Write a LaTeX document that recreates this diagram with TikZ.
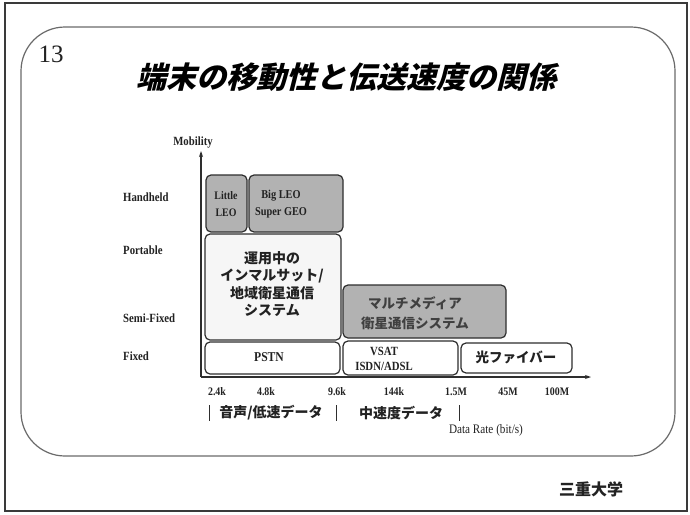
\documentclass[tikz,border=0pt]{standalone}
\usepackage{fontspec}
\setmainfont{Liberation Serif}
\newfontfamily\cond[FakeStretch=0.86]{Liberation Serif}
\newfontfamily\jp{Noto Sans CJK JP}
\newfontfamily\jpti[FakeSlant=0.25]{Noto Sans CJK JP}
\usetikzlibrary{arrows.meta}
\definecolor{framecol}{HTML}{3A3A3A}
\definecolor{innercol}{HTML}{6A6A6A}
\definecolor{edgecol}{HTML}{2E2E2E}
\definecolor{boxgray}{HTML}{B2B2B2}
\definecolor{lightfill}{HTML}{F6F6F6}
\definecolor{txtcol}{HTML}{222222}
\tikzset{
  stagebox/.style={draw=edgecol, line width=1.2pt, rounded corners=5pt, inner sep=0pt, anchor=center},
  graybox/.style={stagebox, fill=boxgray},
  whitebox/.style={stagebox, fill=white},
  lightbox/.style={stagebox, fill=lightfill},
  enlbl/.style={font=\cond\bfseries\fontsize{12}{14}\selectfont, text=txtcol, inner sep=0pt, align=center},
  jplbl/.style={font=\jp\bfseries\fontsize{13.5}{17}\selectfont, text=txtcol, inner sep=0pt, align=center},
  ylbl/.style={font=\cond\bfseries\fontsize{12.5}{14}\selectfont, text=txtcol, inner sep=0pt, anchor=west},
  ticklbl/.style={font=\cond\bfseries\fontsize{11.5}{13}\selectfont, text=txtcol, inner sep=0pt},
  axisline/.style={draw=edgecol, line width=1.2pt},
  barline/.style={draw=edgecol, line width=1pt}
}
\begin{document}
\begin{tikzpicture}[x=1pt,y=-1pt]
\useasboundingbox (0,0) rectangle (690,514);
\fill[white] (0,0) rectangle (690,514);
\draw[framecol, line width=2pt] (5,3) rectangle (687,511);
\draw[innercol, line width=1.2pt, rounded corners=44pt] (21,27) rectangle (675,456);

% page number and title
\node[font=\fontsize{25}{28}\selectfont, text=txtcol, inner sep=0pt] (num) at (51,54) {13};
\node[font=\jpti\bfseries\fontsize{30}{34}\selectfont, inner sep=0pt] (title) at (346,77) {端末の移動性と伝送速度の関係};

% axes
\coordinate (orig) at (201,377);
\coordinate (ytop) at (201,151);
\coordinate (xend) at (591,377);
\draw[axisline, -{Stealth[length=6pt,width=4pt]}] (orig) -- (ytop);
\draw[axisline, -{Stealth[length=6pt,width=4pt]}] (orig) -- (xend);
\node[enlbl, font=\cond\bfseries\fontsize{12.5}{14}\selectfont] (mob) at (193,143) {Mobility};

% y labels
\node[ylbl] (hh) at (123,197) {Handheld};
\node[ylbl] (port) at (123,250) {Portable};
\node[ylbl] (semi) at (123,318) {Semi-Fixed};
\node[ylbl] (fix) at (123,356) {Fixed};

% boxes
\node[graybox, minimum width=41pt, minimum height=57pt] (little) at (226.5,203.5) {};
\node[graybox, minimum width=94pt, minimum height=57pt] (bigleo) at (296,203.5) {};
\node[lightbox, minimum width=136pt, minimum height=106pt] (inmar) at (273,287) {};
\node[graybox, minimum width=163pt, minimum height=53pt] (multi) at (424.5,311.5) {};
\node[whitebox, minimum width=135pt, minimum height=32pt] (pstn) at (272.5,358) {};
\node[whitebox, minimum width=115pt, minimum height=34pt] (vsat) at (400.5,358) {};
\node[whitebox, minimum width=111pt, minimum height=30pt] (fiber) at (516.5,358) {};

% box texts
\node[enlbl, font=\cond\bfseries\fontsize{11.5}{17}\selectfont] (littletxt) at (226,204) {Little\\LEO};
\node[enlbl, font=\cond\bfseries\fontsize{12}{17}\selectfont] (bigleotxt) at (281,204) {Big LEO\\Super GEO};
\node[jplbl, font=\jp\bfseries\fontsize{14}{17.5}\selectfont] (inmartxt) at (272,284) {運用中の\\インマルサット/\\地域衛星通信\\システム};
\node[jplbl, font=\jp\bfseries\fontsize{13.5}{20}\selectfont, text=black!75] (multitxt) at (415,313) {マルチメディア\\衛星通信システム};
\node[enlbl, font=\cond\bfseries\fontsize{13.5}{15}\selectfont] (pstntxt) at (269,357) {PSTN};
\node[enlbl, font=\cond\bfseries\fontsize{12.5}{15}\selectfont] (vsattxt) at (384,359) {VSAT\\ISDN/ADSL};
\node[jplbl] (fibertxt) at (516,357) {光ファイバー};

% tick labels
\node[ticklbl] (t1) at (217,392) {2.4k};
\node[ticklbl] (t2) at (266,392) {4.8k};
\node[ticklbl] (t3) at (337,392) {9.6k};
\node[ticklbl] (t4) at (394,392) {144k};
\node[ticklbl] (t5) at (456,392) {1.5M};
\node[ticklbl] (t6) at (508,392) {45M};
\node[ticklbl] (t7) at (557,392) {100M};

% category bars
\coordinate (b1t) at (209,405); \coordinate (b1b) at (209,421);
\coordinate (b2t) at (336,405); \coordinate (b2b) at (336,421);
\coordinate (b3t) at (459,405); \coordinate (b3b) at (459,421);
\draw[barline] (b1t) -- (b1b);
\draw[barline] (b2t) -- (b2b);
\draw[barline] (b3t) -- (b3b);
\node[jplbl, font=\jp\bfseries\fontsize{14}{16}\selectfont] (low) at (271,413) {音声/低速データ};
\node[jplbl, font=\jp\bfseries\fontsize{14}{16}\selectfont] (mid) at (401,413) {中速度データ};
\node[font=\cond\fontsize{13}{14}\selectfont, text=txtcol, inner sep=0pt] (rate) at (486,430) {Data Rate (bit/s)};

% footer
\node[jplbl, font=\jp\bfseries\fontsize{16}{18}\selectfont] (univ) at (591,489) {三重大学};
\end{tikzpicture}
\end{document}
